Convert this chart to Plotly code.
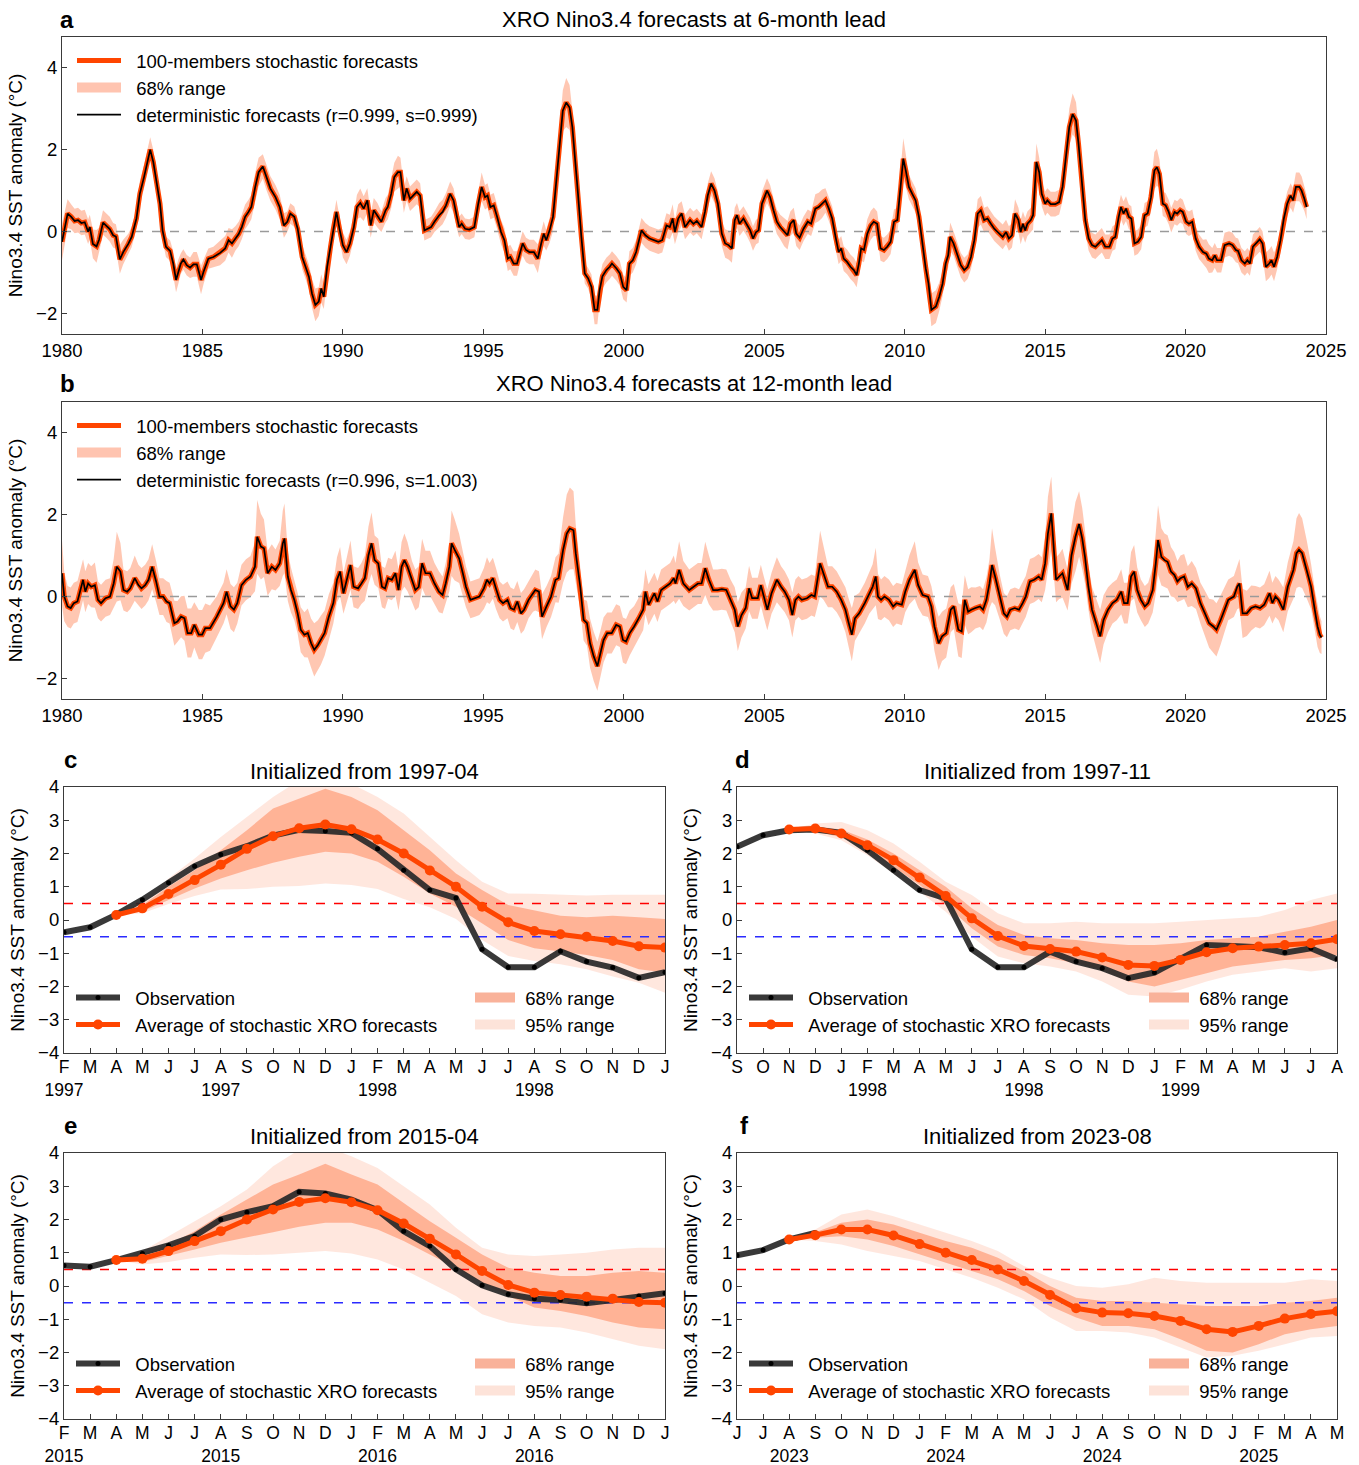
import plotly.graph_objects as go

# ---------------- data: panel a (6-month lead) ----------------
a_years = [
    1980.00, 1980.20, 1980.33, 1980.45, 1980.57, 1980.69, 1980.81, 1980.93, 1980.99,
    1981.10, 1981.23, 1981.32, 1981.46, 1981.58, 1981.70, 1981.82, 1981.92,
    1982.06, 1982.18, 1982.36, 1982.48, 1982.65, 1982.77, 1982.92,
    1983.04, 1983.14, 1983.25, 1983.37, 1983.49, 1983.58, 1983.70, 1983.85, 1983.96,
    1984.06, 1984.14, 1984.23, 1984.32, 1984.44, 1984.56, 1984.68, 1984.80, 1984.95,
    1985.04, 1985.21, 1985.39, 1985.63, 1985.81, 1985.93,
    1986.05, 1986.17, 1986.29, 1986.40, 1986.52, 1986.64, 1986.74, 1986.88,
    1987.00, 1987.15, 1987.27, 1987.42, 1987.60, 1987.75, 1987.90,
    1988.02, 1988.13, 1988.27, 1988.39, 1988.55, 1988.67, 1988.79, 1988.90,
    1989.02, 1989.14, 1989.23, 1989.32, 1989.44, 1989.56, 1989.65, 1989.77, 1989.89,
    1990.00, 1990.13, 1990.25, 1990.39, 1990.50, 1990.62, 1990.74, 1990.87, 1990.99,
    1991.10, 1991.23, 1991.37, 1991.52, 1991.60, 1991.72, 1991.83, 1991.96,
    1992.05, 1992.17, 1992.27, 1992.39, 1992.51, 1992.63, 1992.75, 1992.90,
    1993.02, 1993.14, 1993.26, 1993.43, 1993.55, 1993.67, 1993.82, 1993.94,
    1994.06, 1994.14, 1994.23, 1994.35, 1994.50, 1994.68, 1994.82, 1994.94,
    1995.06, 1995.15, 1995.25, 1995.37, 1995.49, 1995.63, 1995.75, 1995.87, 1995.96,
    1996.08, 1996.20, 1996.30, 1996.40, 1996.52, 1996.64, 1996.80, 1996.94,
    1997.06, 1997.15, 1997.24, 1997.36, 1997.48, 1997.60, 1997.71, 1997.83, 1997.95,
    1998.07, 1998.17, 1998.25, 1998.37, 1998.49, 1998.61, 1998.73, 1998.85, 1998.96,
    1999.06, 1999.14, 1999.24, 1999.38, 1999.50, 1999.58, 1999.74, 1999.86, 1999.98,
    2000.10, 2000.20, 2000.32, 2000.44, 2000.63, 2000.77, 2000.92,
    2001.07, 2001.23, 2001.37, 2001.52, 2001.64, 2001.74, 2001.82, 2001.94,
    2002.06, 2002.18, 2002.36, 2002.48, 2002.60, 2002.77, 2002.89, 2002.99,
    2003.11, 2003.23, 2003.35, 2003.49, 2003.61, 2003.73, 2003.85, 2003.95,
    2004.03, 2004.12, 2004.26, 2004.38, 2004.50, 2004.60, 2004.71, 2004.80, 2004.92,
    2005.10, 2005.21, 2005.33, 2005.45, 2005.57, 2005.71, 2005.83, 2005.93,
    2006.05, 2006.14, 2006.26, 2006.40, 2006.55, 2006.67, 2006.82, 2006.94,
    2007.06, 2007.18, 2007.30, 2007.42, 2007.54, 2007.65, 2007.74, 2007.83, 2007.95,
    2008.07, 2008.19, 2008.29, 2008.37, 2008.45, 2008.55, 2008.67, 2008.79, 2008.90,
    2009.02, 2009.14, 2009.26, 2009.38, 2009.50, 2009.62, 2009.74, 2009.86, 2009.95,
    2010.04, 2010.15, 2010.27, 2010.39, 2010.51, 2010.63, 2010.75, 2010.85, 2010.95,
    2011.11, 2011.23, 2011.35, 2011.46, 2011.55, 2011.62, 2011.74, 2011.86,
    2012.00, 2012.12, 2012.24, 2012.36, 2012.48, 2012.60, 2012.71, 2012.83, 2012.95,
    2013.07, 2013.19, 2013.31, 2013.49, 2013.61, 2013.71, 2013.82, 2013.93,
    2014.05, 2014.13, 2014.21, 2014.29, 2014.37, 2014.49, 2014.57, 2014.69, 2014.79, 2014.88,
    2015.00, 2015.08, 2015.20, 2015.36, 2015.50, 2015.62, 2015.74, 2015.86, 2015.98,
    2016.10, 2016.19, 2016.31, 2016.43, 2016.55, 2016.67, 2016.79, 2016.90,
    2017.02, 2017.14, 2017.29, 2017.40, 2017.50, 2017.62, 2017.70, 2017.79, 2017.88, 2017.98,
    2018.07, 2018.18, 2018.30, 2018.42, 2018.54, 2018.65, 2018.77, 2018.89, 2018.98,
    2019.07, 2019.19, 2019.29, 2019.40, 2019.49, 2019.61, 2019.70, 2019.81, 2019.90,
    2020.02, 2020.12, 2020.24, 2020.36, 2020.48, 2020.62, 2020.74, 2020.83, 2020.95,
    2021.04, 2021.12, 2021.27, 2021.39, 2021.55, 2021.67, 2021.79, 2021.87, 2021.99,
    2022.11, 2022.20, 2022.29, 2022.40, 2022.52, 2022.64, 2022.74, 2022.86, 2022.98,
    2023.06, 2023.15, 2023.26, 2023.38, 2023.50, 2023.62, 2023.74, 2023.83, 2023.93,
    2024.05, 2024.13, 2024.23, 2024.31,
]
a_mean = [
    -0.25, 0.44, 0.36, 0.26, 0.28, 0.21, 0.23, 0.00, 0.11,
    -0.30, -0.36, -0.20, 0.22, 0.15, 0.06, -0.09, -0.12,
    -0.68, -0.50, -0.30, -0.13, 0.32, 0.92, 1.33,
    1.70, 2.00, 1.70, 1.20, 0.68, 0.03, -0.37, -0.47, -0.78,
    -1.18, -0.98, -0.78, -0.68, -0.82, -0.88, -0.80, -0.80, -1.18,
    -0.98, -0.66, -0.62, -0.52, -0.41, -0.21,
    -0.29, -0.17, -0.06, 0.11, 0.36, 0.48, 0.60, 1.09,
    1.45, 1.59, 1.33, 1.05, 0.84, 0.60, 0.15,
    0.24, 0.44, 0.36, 0.07, -0.62, -0.86, -1.10, -1.51,
    -1.79, -1.71, -1.39, -1.59, -0.86, -0.37, 0.03, 0.48, 0.03,
    -0.33, -0.50, -0.29, 0.11, 0.60, 0.70, 0.56, 0.76, 0.15,
    0.52, 0.40, 0.24, 0.52, 0.60, 0.92, 1.33, 1.45,
    1.45, 0.76, 1.05, 0.80, 0.88, 0.97, 0.88, 0.03,
    0.07, 0.11, 0.24, 0.40, 0.48, 0.64, 0.92, 0.76,
    0.36, 0.11, 0.19, 0.07, 0.05, 0.11, 0.68, 1.09,
    0.84, 0.88, 0.60, 0.64, 0.36, -0.01, -0.21, -0.66, -0.62,
    -0.78, -0.78, -0.50, -0.29, -0.45, -0.50, -0.50, -0.66,
    -0.29, -0.05, -0.21, 0.03, 0.36, 1.25, 2.22, 2.95, 3.15,
    3.03, 2.55, 1.82, 0.92, -0.13, -1.02, -1.14, -1.35, -1.91,
    -1.91, -1.43, -1.09, -0.94, -0.86, -0.78, -0.90, -1.02, -1.35,
    -1.43, -0.78, -0.70, -0.50, 0.03, -0.09, -0.17,
    -0.21, -0.25, -0.21, 0.15, 0.11, 0.32, -0.01, 0.32,
    0.44, 0.11, 0.28, 0.19, 0.26, 0.11, 0.48, 0.88,
    1.17, 1.00, 0.68, -0.05, -0.29, -0.33, -0.41, 0.28,
    0.40, 0.19, 0.32, 0.19, 0.03, -0.17, -0.01, 0.03, 0.68,
    1.00, 0.84, 0.52, 0.24, 0.11, -0.01, -0.09, 0.19,
    0.28, -0.05, -0.15, 0.07, 0.24, 0.19, 0.56, 0.60,
    0.68, 0.76, 0.56, 0.32, -0.13, -0.50, -0.41, -0.66, -0.74,
    -0.86, -0.94, -1.06, -0.78, -0.41, -0.45, -0.05, 0.15, 0.24,
    0.19, -0.41, -0.45, -0.37, -0.25, 0.24, 0.28, 1.09, 1.78,
    1.49, 1.09, 0.92, 0.76, 0.36, -0.29, -0.90, -1.27, -1.91,
    -1.83, -1.59, -1.27, -0.78, -0.58, -0.13, -0.29, -0.54,
    -0.82, -0.94, -0.86, -0.62, -0.21, 0.44, 0.52, 0.28, 0.32,
    0.19, 0.07, -0.01, -0.13, -0.01, -0.17, -0.09, 0.44,
    0.28, -0.01, 0.19, 0.03, 0.19, 0.28, 0.40, 1.70, 1.45, 0.92,
    0.68, 0.76, 0.67, 0.67, 0.72, 1.09, 1.82, 2.55, 2.87,
    2.71, 2.14, 1.25, 0.28, -0.17, -0.33, -0.37, -0.29,
    -0.21, -0.37, -0.37, -0.17, -0.13, 0.36, 0.60, 0.44, 0.56, 0.36,
    0.32, -0.29, -0.25, -0.13, 0.40, 0.44, 0.84, 1.49, 1.57,
    1.41, 0.68, 0.64, 0.48, 0.28, 0.48, 0.44, 0.52, 0.48,
    0.24, 0.19, 0.24, -0.17, -0.37, -0.50, -0.54, -0.66, -0.70,
    -0.58, -0.70, -0.70, -0.33, -0.29, -0.33, -0.45, -0.47, -0.70,
    -0.78, -0.70, -0.78, -0.37, -0.29, -0.19, -0.29, -0.86, -0.78,
    -0.70, -0.86, -0.62, -0.21, 0.32, 0.68, 0.88, 0.76, 1.09,
    1.09, 1.00, 0.80, 0.60,
]
a_spread68 = [
    0.45, 0.35, 0.30, 0.30, 0.30, 0.30, 0.30, 0.30, 0.30,
    0.35, 0.40, 0.30, 0.30, 0.30, 0.30, 0.30, 0.30,
    0.35, 0.30, 0.25, 0.25, 0.25, 0.30, 0.30,
    0.30, 0.30, 0.30, 0.25, 0.25, 0.25, 0.25, 0.25, 0.30,
    0.30, 0.30, 0.25, 0.25, 0.25, 0.25, 0.30, 0.30, 0.35,
    0.30, 0.25, 0.25, 0.30, 0.30, 0.30,
    0.35, 0.30, 0.30, 0.30, 0.30, 0.30, 0.30, 0.35,
    0.35, 0.30, 0.30, 0.30, 0.30, 0.30, 0.30,
    0.25, 0.25, 0.25, 0.25, 0.30, 0.30, 0.30, 0.35,
    0.40, 0.35, 0.35, 0.30, 0.30, 0.30, 0.30, 0.30, 0.30,
    0.30, 0.30, 0.30, 0.30, 0.30, 0.35, 0.30, 0.30, 0.30,
    0.30, 0.30, 0.25, 0.30, 0.30, 0.35, 0.35, 0.40,
    0.35, 0.30, 0.30, 0.30, 0.30, 0.30, 0.30, 0.25,
    0.25, 0.25, 0.25, 0.30, 0.30, 0.30, 0.30, 0.30,
    0.30, 0.25, 0.25, 0.25, 0.25, 0.25, 0.30, 0.35,
    0.30, 0.30, 0.30, 0.30, 0.30, 0.30, 0.30, 0.30, 0.30,
    0.30, 0.30, 0.30, 0.30, 0.30, 0.30, 0.30, 0.35,
    0.30, 0.30, 0.25, 0.30, 0.35, 0.40, 0.45, 0.50, 0.60,
    0.55, 0.40, 0.30, 0.25, 0.25, 0.25, 0.25, 0.30, 0.35,
    0.35, 0.30, 0.30, 0.30, 0.30, 0.30, 0.30, 0.30, 0.30,
    0.30, 0.30, 0.30, 0.30, 0.30, 0.30, 0.30,
    0.30, 0.30, 0.30, 0.30, 0.30, 0.35, 0.30, 0.35,
    0.30, 0.30, 0.30, 0.30, 0.30, 0.30, 0.30, 0.30,
    0.30, 0.30, 0.30, 0.30, 0.35, 0.35, 0.35, 0.30,
    0.30, 0.30, 0.30, 0.30, 0.30, 0.30, 0.30, 0.30, 0.30,
    0.30, 0.30, 0.30, 0.30, 0.30, 0.35, 0.35, 0.30,
    0.30, 0.30, 0.30, 0.30, 0.30, 0.30, 0.35, 0.35,
    0.35, 0.30, 0.30, 0.30, 0.30, 0.30, 0.30, 0.30, 0.30,
    0.30, 0.30, 0.30, 0.30, 0.30, 0.30, 0.35, 0.35, 0.35,
    0.30, 0.30, 0.30, 0.30, 0.30, 0.30, 0.30, 0.40, 0.50,
    0.40, 0.30, 0.30, 0.30, 0.30, 0.30, 0.30, 0.35, 0.40,
    0.40, 0.35, 0.30, 0.30, 0.30, 0.35, 0.30, 0.30,
    0.30, 0.30, 0.30, 0.30, 0.30, 0.35, 0.35, 0.30, 0.30,
    0.30, 0.30, 0.30, 0.30, 0.30, 0.30, 0.30, 0.35,
    0.30, 0.30, 0.30, 0.30, 0.30, 0.30, 0.35, 0.45, 0.35, 0.30,
    0.30, 0.30, 0.30, 0.30, 0.30, 0.35, 0.40, 0.45, 0.50,
    0.45, 0.40, 0.30, 0.30, 0.30, 0.30, 0.30, 0.30,
    0.30, 0.30, 0.30, 0.30, 0.30, 0.30, 0.30, 0.30, 0.30, 0.30,
    0.30, 0.30, 0.30, 0.30, 0.30, 0.30, 0.35, 0.45, 0.45,
    0.35, 0.30, 0.30, 0.30, 0.30, 0.30, 0.30, 0.30, 0.30,
    0.30, 0.30, 0.30, 0.30, 0.30, 0.30, 0.35, 0.35, 0.30,
    0.30, 0.30, 0.30, 0.30, 0.30, 0.30, 0.30, 0.30, 0.30,
    0.30, 0.30, 0.30, 0.30, 0.30, 0.30, 0.30, 0.35, 0.35,
    0.35, 0.35, 0.30, 0.30, 0.30, 0.30, 0.30, 0.30, 0.35,
    0.35, 0.35, 0.30, 0.30,
]

# ---------------- data: panel b (12-month lead) ----------------
b_years = [
    1980.00, 1980.08, 1980.20, 1980.31, 1980.42, 1980.55, 1980.64, 1980.75, 1980.83, 1980.93,
    1981.04, 1981.17, 1981.28, 1981.39, 1981.55, 1981.71, 1981.84, 1981.95,
    1982.08, 1982.19, 1982.32, 1982.43, 1982.59, 1982.72, 1982.83, 1982.96,
    1983.08, 1983.21, 1983.35, 1983.47, 1983.60, 1983.72, 1983.83,
    1984.00, 1984.11, 1984.24, 1984.36, 1984.47, 1984.60, 1984.71, 1984.87, 1984.99,
    1985.10, 1985.27, 1985.51, 1985.75, 1985.86,
    1986.00, 1986.12, 1986.24, 1986.39, 1986.55, 1986.71, 1986.87, 1986.95,
    1987.08, 1987.19, 1987.32, 1987.47, 1987.60, 1987.75, 1987.86, 1987.92,
    1988.04, 1988.15, 1988.27, 1988.39, 1988.50, 1988.63, 1988.75, 1988.87, 1988.98,
    1989.11, 1989.22, 1989.35, 1989.50, 1989.66, 1989.79, 1989.90,
    1990.02, 1990.14, 1990.27, 1990.38, 1990.54, 1990.66, 1990.78, 1990.91,
    1991.02, 1991.13, 1991.26, 1991.39, 1991.50, 1991.61, 1991.74, 1991.87, 1991.98,
    1992.09, 1992.19, 1992.30, 1992.46, 1992.58, 1992.70, 1992.82, 1992.94,
    1993.10, 1993.26, 1993.42, 1993.55, 1993.66, 1993.79, 1993.87, 1993.98,
    1994.14, 1994.27, 1994.38, 1994.54, 1994.70, 1994.86,
    1995.02, 1995.13, 1995.22, 1995.34, 1995.45, 1995.58, 1995.70, 1995.86, 1995.97,
    1996.09, 1996.21, 1996.34, 1996.45, 1996.61, 1996.77, 1996.85, 1996.98,
    1997.09, 1997.25, 1997.41, 1997.57, 1997.68, 1997.84, 1997.97,
    1998.08, 1998.21, 1998.29, 1998.45, 1998.57, 1998.69, 1998.80, 1998.93,
    1999.06, 1999.17, 1999.28, 1999.41, 1999.57, 1999.73, 1999.86, 1999.97,
    2000.08, 2000.21, 2000.37, 2000.53, 2000.69, 2000.77, 2000.88,
    2001.09, 2001.20, 2001.33, 2001.49, 2001.65, 2001.78, 2001.84, 2001.97,
    2002.12, 2002.33, 2002.48, 2002.64, 2002.77, 2002.90,
    2003.03, 2003.18, 2003.34, 2003.49, 2003.65, 2003.80, 2003.95,
    2004.06, 2004.19, 2004.34, 2004.46, 2004.57, 2004.77, 2004.88, 2004.98,
    2005.11, 2005.26, 2005.45, 2005.60, 2005.73, 2005.88,
    2006.00, 2006.11, 2006.22, 2006.34, 2006.52, 2006.68, 2006.80, 2006.99,
    2007.11, 2007.27, 2007.42, 2007.58, 2007.74, 2007.89,
    2008.01, 2008.12, 2008.23, 2008.38, 2008.58, 2008.74, 2008.86, 2008.97,
    2009.05, 2009.16, 2009.28, 2009.44, 2009.59, 2009.71, 2009.90,
    2010.02, 2010.17, 2010.36, 2010.48, 2010.64, 2010.83, 2010.95,
    2011.06, 2011.21, 2011.33, 2011.48, 2011.64, 2011.75, 2011.91,
    2012.03, 2012.14, 2012.26, 2012.37, 2012.52, 2012.68, 2012.79, 2012.91,
    2013.02, 2013.11, 2013.22, 2013.38, 2013.53, 2013.64, 2013.76, 2013.92,
    2014.07, 2014.20, 2014.31, 2014.46, 2014.61, 2014.77, 2014.88,
    2015.00, 2015.10, 2015.22, 2015.31, 2015.39, 2015.50, 2015.62, 2015.80, 2015.94,
    2016.08, 2016.21, 2016.32, 2016.42, 2016.54, 2016.67, 2016.82, 2016.96,
    2017.08, 2017.24, 2017.40, 2017.55, 2017.71, 2017.81, 2017.94,
    2018.06, 2018.17, 2018.28, 2018.41, 2018.55, 2018.67, 2018.83, 2018.94,
    2019.02, 2019.14, 2019.25, 2019.36, 2019.48, 2019.60, 2019.71, 2019.82, 2019.95,
    2020.08, 2020.22, 2020.37, 2020.53, 2020.69, 2020.84, 2020.99,
    2021.10, 2021.25, 2021.41, 2021.52, 2021.72, 2021.84, 2021.92,
    2022.03, 2022.18, 2022.34, 2022.49, 2022.65, 2022.80, 2022.99,
    2023.09, 2023.20, 2023.31, 2023.48, 2023.64, 2023.84, 2023.95,
    2024.04, 2024.15, 2024.32, 2024.47, 2024.60, 2024.70, 2024.78, 2024.84,
]
b_mean = [
    0.57, 0.00, -0.24, -0.28, -0.16, -0.12, 0.12, 0.41, 0.12, 0.32,
    0.24, 0.28, -0.08, -0.16, -0.04, 0.00, 0.32, 0.73,
    0.61, 0.16, 0.12, 0.20, 0.45, 0.28, 0.20, 0.28,
    0.41, 0.73, 0.37, 0.00, 0.00, -0.12, -0.16,
    -0.65, -0.61, -0.49, -0.53, -0.89, -0.89, -0.69, -0.93, -0.93,
    -0.77, -0.77, -0.49, -0.16, 0.12,
    -0.24, -0.32, -0.16, 0.28, 0.41, 0.49, 0.73, 1.46,
    1.22, 1.18, 0.57, 0.73, 0.65, 0.81, 1.30, 1.42,
    0.49, 0.16, -0.08, -0.41, -0.81, -0.93, -0.89, -1.14, -1.30,
    -1.18, -1.06, -0.89, -0.49, -0.16, 0.41, 0.61,
    0.08, 0.41, 0.77, 0.24, 0.20, 0.32, 0.45, 1.01,
    1.30, 0.89, 0.81, 0.24, 0.20, 0.45, 0.41, 0.57, 0.16,
    0.73, 0.89, 0.73, 0.37, 0.16, 0.24, 0.81, 0.57,
    0.57, 0.32, 0.12, 0.04, 0.32, 0.73, 1.30, 1.14,
    0.93, 0.57, 0.24, -0.08, -0.04, 0.00,
    0.20, 0.41, 0.32, 0.45, 0.20, -0.08, -0.16, -0.08, -0.28,
    -0.32, -0.12, -0.41, -0.32, -0.08, 0.08, 0.16, 0.12,
    -0.49, -0.24, 0.00, 0.41, 0.45, 1.14, 1.54,
    1.66, 1.62, 1.06, 0.24, -0.57, -0.65, -1.14, -1.46,
    -1.70, -1.38, -1.06, -0.89, -0.89, -0.69, -0.73, -1.06,
    -1.10, -0.89, -0.73, -0.53, -0.32, 0.12, -0.20,
    0.08, -0.12, 0.16, 0.24, 0.32, 0.45, 0.32, 0.65,
    0.32, 0.16, 0.24, 0.32, 0.32, 0.69,
    0.41, 0.16, 0.16, 0.18, 0.16, -0.08, -0.32,
    -0.73, -0.45, -0.28, 0.20, -0.04, -0.04, 0.28, 0.00,
    -0.32, 0.08, 0.41, 0.24, 0.12, -0.08,
    -0.45, -0.08, 0.00, -0.08, -0.04, 0.04, 0.00, 0.81,
    0.57, 0.24, 0.24, 0.12, -0.08, -0.32,
    -0.65, -0.93, -0.53, -0.41, -0.16, 0.08, 0.24, 0.49,
    0.00, -0.08, 0.00, -0.08, -0.24, -0.16, -0.20,
    0.12, 0.41, 0.65, 0.28, 0.04, 0.00, -0.24,
    -0.73, -1.14, -0.97, -0.89, -0.32, -0.24, -0.81,
    -0.85, -0.08, -0.37, -0.32, -0.28, -0.24, -0.32, -0.08,
    0.32, 0.77, 0.49, 0.00, -0.41, -0.49, -0.32, -0.28,
    -0.32, -0.16, 0.00, 0.37, 0.41, 0.49, 0.41,
    0.81, 1.54, 2.03, 1.22, 0.41, 0.49, 0.57, 0.16, 1.01,
    1.46, 1.77, 1.42, 0.97, 0.24, -0.32, -0.65, -0.97,
    -0.57, -0.32, -0.16, -0.08, 0.12, -0.16, -0.16,
    0.49, 0.61, 0.16, -0.08, -0.24, -0.16, 0.16, 0.81,
    1.38, 0.97, 0.89, 0.85, 0.61, 0.53, 0.37, 0.45, 0.49,
    0.24, 0.32, 0.20, -0.16, -0.41, -0.65, -0.73,
    -0.81, -0.57, -0.28, -0.08, 0.00, 0.24, 0.32,
    -0.41, -0.41, -0.28, -0.24, -0.28, -0.20, 0.08,
    -0.16, 0.00, -0.08, -0.32, 0.24, 0.65, 1.06,
    1.14, 1.06, 0.65, 0.24, -0.32, -0.73, -0.93, -1.00,
]
b_spread68 = [
    0.80, 0.60, 0.50, 0.50, 0.50, 0.50, 0.50, 0.50, 0.50, 0.50,
    0.50, 0.55, 0.45, 0.45, 0.45, 0.45, 0.60, 0.85,
    0.70, 0.50, 0.50, 0.50, 0.55, 0.50, 0.50, 0.50,
    0.50, 0.55, 0.50, 0.45, 0.45, 0.50, 0.50,
    0.55, 0.50, 0.50, 0.55, 0.60, 0.60, 0.55, 0.60, 0.60,
    0.60, 0.55, 0.50, 0.50, 0.55,
    0.55, 0.55, 0.50, 0.50, 0.50, 0.50, 0.60, 0.90,
    0.80, 0.70, 0.55, 0.55, 0.50, 0.55, 0.80, 0.85,
    0.60, 0.55, 0.50, 0.50, 0.55, 0.55, 0.60, 0.60, 0.65,
    0.60, 0.60, 0.55, 0.55, 0.50, 0.55, 0.60,
    0.50, 0.55, 0.60, 0.50, 0.50, 0.50, 0.55, 0.70,
    0.75, 0.60, 0.60, 0.50, 0.50, 0.50, 0.50, 0.55, 0.50,
    0.60, 0.65, 0.60, 0.50, 0.50, 0.50, 0.60, 0.55,
    0.55, 0.50, 0.50, 0.45, 0.50, 0.60, 0.80, 0.75,
    0.60, 0.55, 0.50, 0.45, 0.45, 0.45,
    0.50, 0.55, 0.50, 0.50, 0.50, 0.45, 0.45, 0.45, 0.50,
    0.50, 0.50, 0.50, 0.50, 0.45, 0.45, 0.50, 0.50,
    0.55, 0.50, 0.50, 0.55, 0.60, 0.80, 0.95,
    1.00, 0.95, 0.70, 0.55, 0.50, 0.55, 0.60, 0.60,
    0.60, 0.55, 0.55, 0.50, 0.50, 0.50, 0.50, 0.55,
    0.55, 0.55, 0.50, 0.50, 0.50, 0.55, 0.50,
    0.50, 0.50, 0.50, 0.50, 0.50, 0.55, 0.50, 0.70,
    0.55, 0.50, 0.50, 0.50, 0.50, 0.65,
    0.60, 0.50, 0.50, 0.50, 0.50, 0.50, 0.55,
    0.60, 0.55, 0.50, 0.55, 0.50, 0.50, 0.50, 0.50,
    0.50, 0.50, 0.55, 0.50, 0.50, 0.50,
    0.55, 0.50, 0.50, 0.50, 0.50, 0.50, 0.50, 0.80,
    0.65, 0.50, 0.50, 0.50, 0.50, 0.55,
    0.60, 0.65, 0.55, 0.50, 0.50, 0.50, 0.55, 0.70,
    0.55, 0.50, 0.50, 0.50, 0.50, 0.50, 0.50,
    0.50, 0.60, 0.70, 0.55, 0.50, 0.50, 0.50,
    0.60, 0.65, 0.60, 0.60, 0.55, 0.55, 0.65,
    0.65, 0.60, 0.55, 0.55, 0.50, 0.50, 0.50, 0.55,
    0.60, 0.90, 0.70, 0.55, 0.50, 0.50, 0.50, 0.50,
    0.50, 0.50, 0.50, 0.55, 0.55, 0.55, 0.55,
    0.65, 0.90, 0.90, 0.70, 0.55, 0.55, 0.60, 0.50, 0.70,
    0.85, 0.80, 0.75, 0.65, 0.55, 0.55, 0.60, 0.65,
    0.60, 0.55, 0.50, 0.50, 0.55, 0.50, 0.50,
    0.60, 0.65, 0.55, 0.50, 0.50, 0.50, 0.55, 0.75,
    0.85, 0.70, 0.65, 0.65, 0.60, 0.55, 0.50, 0.55, 0.55,
    0.50, 0.55, 0.50, 0.50, 0.55, 0.60, 0.65,
    0.65, 0.60, 0.55, 0.50, 0.50, 0.55, 0.60,
    0.60, 0.55, 0.55, 0.50, 0.50, 0.50, 0.55,
    0.50, 0.50, 0.50, 0.55, 0.60, 0.70, 0.85,
    0.90, 0.85, 0.70, 0.55, 0.50, 0.50, 0.45, 0.40,
]
assert len(a_years) == len(a_mean) == len(a_spread68)
assert len(b_years) == len(b_mean) == len(b_spread68)

ts_xticks = [1980, 1985, 1990, 1995, 2000, 2005, 2010, 2015, 2020, 2025]

# ---------------- data: panels c-f (single forecasts) ----------------
c_months = ['F', 'M', 'A', 'M', 'J', 'J', 'A', 'S', 'O', 'N', 'D', 'J',
            'F', 'M', 'A', 'M', 'J', 'J', 'A', 'S', 'O', 'N', 'D', 'J']
c_years = ['1997', '', '', '', '', '', '1997', '', '', '', '', '',
           '1998', '', '', '', '', '', '1998', '', '', '', '', '']
c_obs = [-0.37, -0.22, 0.16, 0.61, 1.12, 1.62, 1.97, 2.22, 2.54, 2.71, 2.68, 2.62,
         2.14, 1.50, 0.90, 0.66, -0.88, -1.42, -1.42, -0.94, -1.25, -1.43, -1.74, -1.57]
c_init = 2
c_fc = [0.15, 0.35, 0.78, 1.20, 1.66, 2.14, 2.52, 2.76, 2.87, 2.73, 2.42,
        2.00, 1.49, 1.00, 0.40, -0.07, -0.33, -0.43, -0.50, -0.63, -0.79, -0.83]
c_lo68 = [0.15, 0.25, 0.60, 0.95, 1.25, 1.50, 1.72, 1.90, 2.05, 2.00, 1.75,
          1.30, 0.80, 0.40, -0.10, -0.60, -0.85, -0.95, -1.05, -1.20, -1.48, -1.58]
c_hi68 = [0.15, 0.45, 1.00, 1.50, 2.10, 2.70, 3.35, 3.65, 3.95, 3.70, 3.30,
          2.70, 2.10, 1.40, 0.90, 0.45, 0.28, 0.13, 0.08, 0.13, 0.08, 0.03]
c_lo95 = [0.15, 0.20, 0.48, 0.72, 0.92, 0.93, 1.00, 1.02, 1.10, 1.05, 0.93,
          0.63, 0.38, 0.03, -0.60, -1.08, -1.23, -1.33, -1.48, -1.70, -1.89, -2.19]
c_hi95 = [0.15, 0.55, 1.25, 1.85, 2.50, 3.10, 3.70, 4.20, 4.30, 4.10, 3.70,
          3.20, 2.50, 1.80, 1.15, 0.80, 0.79, 0.76, 0.74, 0.76, 0.76, 0.76]

d_months = ['S', 'O', 'N', 'D', 'J', 'F', 'M', 'A', 'M', 'J', 'J', 'A',
            'S', 'O', 'N', 'D', 'J', 'F', 'M', 'A', 'M', 'J', 'J', 'A']
d_years = ['', '', '', '', '', '1998', '', '', '', '', '', '1998',
           '', '', '', '', '', '1999', '', '', '', '', '', '']
d_obs = [2.20, 2.55, 2.70, 2.72, 2.62, 2.10, 1.50, 0.90, 0.65, -0.88, -1.42, -1.42,
         -0.95, -1.25, -1.45, -1.75, -1.58, -1.15, -0.75, -0.78, -0.82, -0.98, -0.85, -1.18]
d_init = 2
d_fc = [2.72, 2.75, 2.60, 2.25, 1.80, 1.28, 0.72, 0.05, -0.48, -0.78, -0.87,
        -0.95, -1.13, -1.35, -1.38, -1.20, -0.97, -0.85, -0.80, -0.75, -0.70, -0.58]
d_lo68 = [2.72, 2.68, 2.48, 2.08, 1.60, 1.05, 0.45, -0.25, -0.80, -1.05, -1.15,
          -1.30, -1.50, -1.85, -2.00, -1.80, -1.60, -1.40, -1.30, -1.20, -1.15, -1.05]
d_hi68 = [2.72, 2.82, 2.72, 2.42, 2.00, 1.50, 1.00, 0.35, -0.15, -0.45, -0.55,
          -0.60, -0.70, -0.75, -0.75, -0.70, -0.60, -0.55, -0.50, -0.35, -0.20, 0.00]
d_lo95 = [2.72, 2.60, 2.40, 1.95, 1.40, 0.85, 0.25, -0.50, -1.10, -1.30, -1.40,
          -1.55, -1.85, -2.25, -2.30, -2.10, -1.85, -1.65, -1.55, -1.45, -1.55, -1.45]
d_hi95 = [2.72, 2.90, 2.95, 2.70, 2.30, 1.75, 1.15, 0.75, 0.20, -0.10, -0.10,
          -0.05, -0.10, -0.10, -0.10, -0.05, 0.00, 0.05, 0.10, 0.30, 0.60, 0.80]

e_months = c_months
e_years = ['2015', '', '', '', '', '', '2015', '', '', '', '', '',
           '2016', '', '', '', '', '', '2016', '', '', '', '', '']
e_obs = [0.62, 0.58, 0.78, 0.98, 1.22, 1.50, 2.00, 2.22, 2.40, 2.83, 2.78, 2.60,
         2.28, 1.65, 1.20, 0.50, 0.02, -0.25, -0.38, -0.42, -0.52, -0.42, -0.30, -0.22]
e_init = 2
e_fc = [0.78, 0.82, 1.05, 1.35, 1.65, 2.00, 2.30, 2.53, 2.64, 2.52, 2.28,
        1.88, 1.42, 0.95, 0.45, 0.03, -0.20, -0.27, -0.32, -0.38, -0.48, -0.50]
e_lo68 = [0.78, 0.72, 0.90, 1.10, 1.30, 1.45, 1.62, 1.78, 1.90, 1.90, 1.70,
          1.35, 0.95, 0.55, 0.10, -0.30, -0.65, -0.75, -0.90, -1.10, -1.25, -1.30]
e_hi68 = [0.78, 0.95, 1.25, 1.65, 2.15, 2.60, 3.05, 3.35, 3.68, 3.35, 3.05,
          2.50, 1.95, 1.45, 0.95, 0.55, 0.40, 0.30, 0.30, 0.40, 0.45, 0.40]
e_lo95 = [0.78, 0.65, 0.72, 0.85, 0.95, 0.93, 0.95, 1.00, 1.05, 0.98, 0.80,
          0.50, 0.10, -0.30, -0.85, -1.10, -1.20, -1.25, -1.40, -1.60, -1.80, -1.90]
e_hi95 = [0.78, 1.05, 1.50, 1.95, 2.40, 2.90, 3.60, 4.10, 4.20, 3.90, 3.55,
          3.00, 2.45, 1.75, 1.15, 0.95, 0.90, 0.95, 1.00, 1.10, 1.15, 1.15]

f_months = ['J', 'J', 'A', 'S', 'O', 'N', 'D', 'J', 'F', 'M', 'A', 'M',
            'J', 'J', 'A', 'S', 'O', 'N', 'D', 'J', 'F', 'M', 'A', 'M']
f_years = ['', '', '2023', '', '', '', '', '', '2024', '', '', '',
           '', '', '2024', '', '', '', '', '', '2025', '', '', '']
f_obs = [0.92, 1.08, 1.40, 1.60]
f_init = 2
f_fc = [1.40, 1.53, 1.70, 1.70, 1.52, 1.26, 1.00, 0.78, 0.50, 0.15, -0.27,
        -0.67, -0.80, -0.82, -0.90, -1.05, -1.30, -1.38, -1.20, -0.98, -0.84, -0.76]
f_lo68 = [1.40, 1.45, 1.50, 1.40, 1.20, 0.95, 0.70, 0.45, 0.20, -0.15, -0.60,
          -0.95, -1.20, -1.20, -1.30, -1.60, -1.95, -2.00, -1.75, -1.45, -1.30, -1.20]
f_hi68 = [1.40, 1.62, 1.90, 2.00, 1.85, 1.60, 1.35, 1.15, 0.85, 0.45, 0.00,
          -0.35, -0.45, -0.45, -0.50, -0.55, -0.60, -0.60, -0.60, -0.50, -0.45, -0.35]
f_lo95 = [1.40, 1.35, 1.25, 1.05, 0.90, 0.75, 0.50, 0.25, -0.05, -0.40, -0.95,
          -1.35, -1.35, -1.40, -1.55, -1.85, -2.15, -2.10, -1.95, -1.75, -1.55, -1.50]
f_hi95 = [1.40, 1.70, 2.15, 2.30, 2.10, 1.85, 1.60, 1.35, 1.05, 0.60, 0.25,
          0.00, -0.05, 0.05, 0.25, 0.15, 0.10, 0.10, 0.10, 0.10, 0.20, 0.15]

enso_threshold = 0.5
yticks_cf = [-4, -3, -2, -1, 0, 1, 2, 3, 4]

# ---------------- styling ----------------
W, H = 1359, 1465
FONT = 'Liberation Sans, Arial, Helvetica, sans-serif'
ORANGE = '#FF4500'
BAND_TS = 'rgba(255,69,0,0.30)'
BAND68 = 'rgba(255,69,0,0.32)'
BAND95 = 'rgba(255,69,0,0.13)'
LEG68 = '#F9B29A'
LEG95 = '#FDE3D9'
OBS = 'rgba(40,40,40,0.92)'
AXC = '#3a3a3a'
YLABEL = 'Nino3.4 SST anomaly (°C)'
TICKSIZE = 18.5
MONTHSIZE = 17.5
LEGSIZE = 18.5
NB = '\u00a0'


def fx(p):
    return p / W


def fy(p):
    return 1 - p / H


def minus(v):
    return str(v).replace('-', '\u2212')


fig = go.Figure()

# panel geometry in pixels: (left, right, top, bottom)
geo = {
    'a': (62, 1326, 37, 334),
    'b': (62, 1326, 402, 699),
    'c': (64, 665, 787, 1053),
    'd': (737, 1337, 787, 1053),
    'e': (64, 665, 1153, 1419),
    'f': (737, 1337, 1153, 1419),
}
axis_ids = {'a': ('x', 'y'), 'b': ('x2', 'y2'), 'c': ('x3', 'y3'),
            'd': ('x4', 'y4'), 'e': ('x5', 'y5'), 'f': ('x6', 'y6')}


def legend_patch(name, color, legend_id, group, rank, xa, ya):
    # legend-only entry drawn as a thick bar
    fig.add_trace(go.Scatter(
        x=[None], y=[None], mode='lines', line=dict(color=color, width=18),
        name=name, legend=legend_id, legendgroup=group, legendrank=rank,
        xaxis=xa, yaxis=ya, hoverinfo='skip'))


def add_timeseries(key, years, mean, spread, legend_id, rs_text):
    xa, ya = axis_ids[key]
    hi = [m + s for m, s in zip(mean, spread)]
    lo = [m - s for m, s in zip(mean, spread)]
    fig.add_trace(go.Scatter(
        x=years + years[::-1], y=hi + lo[::-1], fill='toself', fillcolor=BAND_TS,
        line=dict(width=0), mode='lines', showlegend=False,
        xaxis=xa, yaxis=ya, hoverinfo='skip'))
    legend_patch(NB * 2 + '68% range', '#FFC4B0', legend_id, key + '2', 2, xa, ya)
    fig.add_trace(go.Scatter(
        x=[ts_xticks[0], ts_xticks[-1]], y=[0, 0], mode='lines',
        line=dict(color='#9a9a9a', width=1.5, dash='dash'), showlegend=False,
        xaxis=xa, yaxis=ya, hoverinfo='skip'))
    fig.add_trace(go.Scatter(
        x=years, y=mean, mode='lines', line=dict(color=ORANGE, width=5),
        name=NB * 2 + '100-members stochastic forecasts', legend=legend_id,
        legendgroup=key + '1', legendrank=1, xaxis=xa, yaxis=ya))
    fig.add_trace(go.Scatter(
        x=years, y=mean, mode='lines', line=dict(color='black', width=1.7),
        name=NB * 2 + 'deterministic forecasts (' + rs_text + ')', legend=legend_id,
        legendgroup=key + '3', legendrank=3, xaxis=xa, yaxis=ya))


add_timeseries('a', a_years, a_mean, a_spread68, 'legend', 'r=0.999, s=0.999')
add_timeseries('b', b_years, b_mean, b_spread68, 'legend2', 'r=0.996, s=1.003')


def add_case(key, obs, init, fc, lo68, hi68, lo95, hi95, leg_left, leg_right, nmonths):
    xa, ya = axis_ids[key]
    xf = list(range(init, init + len(fc)))
    fig.add_trace(go.Scatter(
        x=xf + xf[::-1], y=hi95 + lo95[::-1], fill='toself', fillcolor=BAND95,
        line=dict(width=0), mode='lines', showlegend=False,
        xaxis=xa, yaxis=ya, hoverinfo='skip'))
    fig.add_trace(go.Scatter(
        x=xf + xf[::-1], y=hi68 + lo68[::-1], fill='toself', fillcolor=BAND68,
        line=dict(width=0), mode='lines', showlegend=False,
        xaxis=xa, yaxis=ya, hoverinfo='skip'))
    legend_patch(NB + '68% range', LEG68, leg_right, key + 'r1', 1, xa, ya)
    legend_patch(NB + '95% range', LEG95, leg_right, key + 'r2', 2, xa, ya)
    for thr, col in ((enso_threshold, '#FF0000'), (-enso_threshold, '#2B2BFF')):
        fig.add_trace(go.Scatter(
            x=[0, nmonths - 1], y=[thr, thr], mode='lines',
            line=dict(color=col, width=1.5, dash='dash'), showlegend=False,
            xaxis=xa, yaxis=ya, hoverinfo='skip'))
    xo = list(range(len(obs)))
    fig.add_trace(go.Scatter(
        x=xo, y=obs, mode='lines+markers', line=dict(color=OBS, width=6),
        marker=dict(color='black', size=5), name=NB * 2 + 'Observation', legend=leg_left,
        legendgroup=key + 'l1', legendrank=1, xaxis=xa, yaxis=ya))
    fig.add_trace(go.Scatter(
        x=xf, y=fc, mode='lines+markers', line=dict(color=ORANGE, width=5),
        marker=dict(color=ORANGE, size=10), name=NB * 2 + 'Average of stochastic XRO forecasts',
        legend=leg_left, legendgroup=key + 'l2', legendrank=2, xaxis=xa, yaxis=ya))


add_case('c', c_obs, c_init, c_fc, c_lo68, c_hi68, c_lo95, c_hi95, 'legend3', 'legend4', len(c_months))
add_case('d', d_obs, d_init, d_fc, d_lo68, d_hi68, d_lo95, d_hi95, 'legend5', 'legend6', len(d_months))
add_case('e', e_obs, e_init, e_fc, e_lo68, e_hi68, e_lo95, e_hi95, 'legend7', 'legend8', len(e_months))
add_case('f', f_obs, f_init, f_fc, f_lo68, f_hi68, f_lo95, f_hi95, 'legend9', 'legend10', len(f_months))

# ---------------- axes ----------------
common = dict(showline=True, linecolor=AXC, linewidth=1.2, mirror=True, ticks='inside',
              ticklen=5, tickwidth=1, tickcolor=AXC, showgrid=False, zeroline=False,
              automargin=False, tickangle=0)
ytitle = dict(text=YLABEL, font=dict(family=FONT, size=19, color='black'), standoff=8)
tickfont_main = dict(family=FONT, size=TICKSIZE, color='black')
tickfont_month = dict(family=FONT, size=MONTHSIZE, color='black')

layout_axes = {}
for key in 'abcdef':
    L, R, T, B = geo[key]
    xa, ya = axis_ids[key]
    xname = 'xaxis' if xa == 'x' else 'xaxis' + xa[1:]
    yname = 'yaxis' if ya == 'y' else 'yaxis' + ya[1:]
    if key in 'ab':
        xcfg = dict(domain=[fx(L), fx(R)], anchor=ya, range=[ts_xticks[0], ts_xticks[-1]],
                    tickvals=ts_xticks, ticktext=[str(t) for t in ts_xticks],
                    tickfont=tickfont_main, **common)
        ycfg = dict(domain=[fy(B), fy(T)], anchor=xa, range=[-2.5, 4.75],
                    tickvals=[-2, 0, 2, 4], ticktext=[minus(v) for v in [-2, 0, 2, 4]],
                    title=ytitle, tickfont=tickfont_main, **common)
    else:
        months = {'c': c_months, 'd': d_months, 'e': e_months, 'f': f_months}[key]
        years = {'c': c_years, 'd': d_years, 'e': e_years, 'f': f_years}[key]
        labels = [m + ('<br>' + y if y else '') for m, y in zip(months, years)]
        xcfg = dict(domain=[fx(L), fx(R)], anchor=ya, range=[0, len(months) - 1],
                    tickvals=list(range(len(months))), ticktext=labels,
                    tickfont=tickfont_month, ticklabelstandoff=-2, **common)
        ycfg = dict(domain=[fy(B), fy(T)], anchor=xa, range=[-4, 4],
                    tickvals=yticks_cf, ticktext=[minus(v) for v in yticks_cf],
                    title=ytitle, tickfont=tickfont_main, **common)
    layout_axes[xname] = xcfg
    layout_axes[yname] = ycfg


# ---------------- legends ----------------
def legend_cfg(xp, yp, iw=44):
    return dict(x=fx(xp), y=fy(yp), xanchor='left', yanchor='top', bgcolor='rgba(0,0,0,0)',
                font=dict(family=FONT, size=LEGSIZE, color='black'), itemwidth=iw,
                tracegroupgap=5, traceorder='normal')


legends = {
    'legend': legend_cfg(72, 42),
    'legend2': legend_cfg(72, 407),
    'legend3': legend_cfg(71, 979),
    'legend4': legend_cfg(470, 979, 40),
    'legend5': legend_cfg(744, 979),
    'legend6': legend_cfg(1144, 979, 40),
    'legend7': legend_cfg(71, 1345),
    'legend8': legend_cfg(470, 1345, 40),
    'legend9': legend_cfg(744, 1345),
    'legend10': legend_cfg(1144, 1345, 40),
}

# ---------------- titles & panel letters ----------------
titles = [
    ('a', 'XRO Nino3.4 forecasts at 6-month lead', 19),
    ('b', 'XRO Nino3.4 forecasts at 12-month lead', 384),
    ('c', 'Initialized from 1997-04', 771),
    ('d', 'Initialized from 1997-11', 771),
    ('e', 'Initialized from 2015-04', 1136),
    ('f', 'Initialized from 2023-08', 1136),
]
letter_pos = {'a': (58, 19), 'b': (58, 384), 'c': (62, 760), 'd': (733, 760),
              'e': (62, 1125), 'f': (738, 1125)}
annotations = []
for key, text, ypix in titles:
    L, R, T, B = geo[key]
    annotations.append(dict(text=text, x=fx((L + R) / 2), y=fy(ypix), xref='paper', yref='paper',
                            xanchor='center', yanchor='middle', showarrow=False,
                            font=dict(family=FONT, size=22, color='black')))
    lx, ly = letter_pos[key]
    annotations.append(dict(text='<b>' + key + '</b>', x=fx(lx), y=fy(ly), xref='paper', yref='paper',
                            xanchor='left', yanchor='middle', showarrow=False,
                            font=dict(family=FONT, size=24, color='black')))

fig.update_layout(
    width=W, height=H, margin=dict(l=0, r=0, t=0, b=0, autoexpand=False),
    paper_bgcolor='white', plot_bgcolor='white',
    font=dict(family=FONT, size=17, color='black'),
    annotations=annotations, **layout_axes, **legends,
)

fig.write_html('out.html')
